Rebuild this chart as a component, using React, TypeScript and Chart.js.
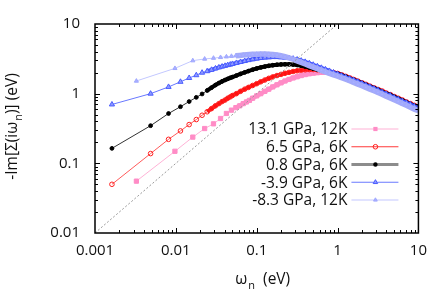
import React, { useEffect, useRef } from 'react';
import { Chart, registerables } from 'chart.js';

Chart.register(...registerables);

// ---------- data ----------
const X_TICKS = [0.001, 0.01, 0.1, 1, 10];
const X_TICK_LABELS = ['0.001', '0.01', '0.1', '1', '10'];
const Y_TICKS = [0.01, 0.1, 1, 10];
const Y_TICK_LABELS = ['0.01', '0.1', '1', '10'];

const SERIES_LABELS = ['13.1 GPa, 12K', '6.5 GPa, 6K', '0.8 GPa, 6K', '-3.9 GPa, 6K', '-8.3 GPa, 12K'];

// Matsubara frequencies (eV)
const W_6K_LOW = [0.00162, 0.00487, 0.00812, 0.0114, 0.0146, 0.0179, 0.0211, 0.0244, 0.0276, 0.0309, 0.0341, 0.0373, 0.0406, 0.0438, 0.0471, 0.05, 0.056, 0.063, 0.071, 0.079];
const W_12K_LOW = [0.00325, 0.00974, 0.0162, 0.0227, 0.0292, 0.0357, 0.0422, 0.0487, 0.0552, 0.0617, 0.0682, 0.0747, 0.0812];
const W_HIGH = [0.089, 0.1, 0.112, 0.126, 0.141, 0.158, 0.178, 0.2, 0.224, 0.251, 0.282, 0.316, 0.355, 0.398, 0.447, 0.5, 0.562, 0.631, 0.708, 0.794, 0.891, 1,
  1.12, 1.26, 1.41, 1.58, 1.78, 2, 2.24, 2.51, 2.82, 3.16, 3.55, 3.98, 4.47, 5.01, 5.62, 6.31, 7.08, 7.94, 8.91, 10];

// -Im Sigma (eV)
const P131_Y = [0.0555, 0.149, 0.238, 0.316, 0.369, 0.44, 0.52, 0.58, 0.63, 0.67, 0.72, 0.76, 0.80,
  0.86, 0.93, 1.0, 1.08, 1.16, 1.25, 1.34, 1.43, 1.52, 1.60, 1.68, 1.75, 1.82, 1.88, 1.93, 1.97, 2.0, 2.02, 2.02, 2.01, 1.98, 1.94,
  1.85, 1.76, 1.67, 1.59, 1.50, 1.42, 1.35, 1.27, 1.20, 1.14, 1.08, 1.01, 0.96, 0.90, 0.85, 0.80, 0.75, 0.71, 0.67, 0.63];
const P65_Y = [0.050, 0.138, 0.221, 0.292, 0.36, 0.425, 0.49, 0.55, 0.61, 0.67, 0.72, 0.77, 0.81, 0.86, 0.90, 0.94, 1.0, 1.08, 1.16, 1.23,
  1.31, 1.39, 1.48, 1.57, 1.66, 1.74, 1.82, 1.89, 1.96, 2.02, 2.08, 2.13, 2.17, 2.20, 2.22, 2.22, 2.20, 2.17, 2.12, 2.07, 2.01, 1.95,
  1.86, 1.77, 1.68, 1.60, 1.51, 1.43, 1.36, 1.28, 1.21, 1.15, 1.09, 1.02, 0.97, 0.91, 0.86, 0.81, 0.76, 0.72, 0.68, 0.64];
const P08_Y = [0.164, 0.347, 0.519, 0.65, 0.771, 0.885, 0.99, 1.11, 1.22, 1.33, 1.42, 1.50, 1.57, 1.63, 1.69, 1.73, 1.82, 1.92, 2.02, 2.11,
  2.21, 2.30, 2.38, 2.45, 2.51, 2.56, 2.60, 2.63, 2.64, 2.64, 2.62, 2.58, 2.52, 2.45, 2.37, 2.29, 2.21, 2.14, 2.08, 2.03, 1.98, 1.93,
  1.84, 1.75, 1.66, 1.58, 1.50, 1.42, 1.34, 1.27, 1.20, 1.14, 1.07, 1.01, 0.96, 0.90, 0.85, 0.80, 0.75, 0.71, 0.67, 0.63];
const M39_Y = [0.70, 1.0, 1.25, 1.48, 1.68, 1.84, 2.0, 2.1, 2.2, 2.3, 2.38, 2.45, 2.51, 2.57, 2.62, 2.67, 2.76, 2.85, 2.94, 3.03,
  3.11, 3.19, 3.25, 3.30, 3.33, 3.35, 3.35, 3.33, 3.30, 3.25, 3.18, 3.09, 2.98, 2.86, 2.73, 2.60, 2.47, 2.35, 2.23, 2.12, 2.01, 1.91,
  1.81, 1.72, 1.64, 1.56, 1.48, 1.40, 1.32, 1.25, 1.18, 1.12, 1.05, 0.99, 0.94, 0.88, 0.83, 0.78, 0.74, 0.70, 0.66, 0.62];
const M83_Y = [1.52, 2.31, 2.98, 3.15, 3.24, 3.32, 3.39, 3.45, 3.50, 3.54, 3.58, 3.61, 3.64,
  3.67, 3.69, 3.70, 3.70, 3.68, 3.64, 3.58, 3.50, 3.40, 3.27, 3.12, 2.96, 2.81, 2.67, 2.53, 2.40, 2.28, 2.16, 2.05, 1.95, 1.86, 1.78,
  1.69, 1.61, 1.53, 1.45, 1.37, 1.30, 1.23, 1.16, 1.10, 1.04, 0.98, 0.92, 0.87, 0.82, 0.77, 0.72, 0.68, 0.64, 0.60, 0.57];

// reference line y = 10 x
const DIAG_X = [0.001, 1];
const DIAG_Y = [0.01, 10];

// ---------- styles ----------
const FONT = "'Open Sans', 'DejaVu Sans', sans-serif";
const TEXT = '#111111';

type Sty = {
  marker: string; pointStyle: string; radius: number; fill: string; stroke: string;
  line: string; band: string; bandW: number; legLine: string; legW: number; order: number;
};
const STYLES: Sty[] = [
  { marker: 'sq', pointStyle: 'rect', radius: 3, fill: '#ff8cc6', stroke: '#ff8cc6', line: '#ffb2d6', band: '#ff94c8', bandW: 4.5, legLine: '#ffb2d6', legW: 1.2, order: 4 },
  { marker: 'oc', pointStyle: 'circle', radius: 2.3, fill: 'rgba(0,0,0,0)', stroke: '#ff2020', line: '#ff5a5a', band: '#ff1010', bandW: 4, legLine: '#ff3a3a', legW: 1.2, order: 3 },
  { marker: 'dot', pointStyle: 'circle', radius: 1.9, fill: '#000000', stroke: '#000000', line: '#333333', band: '#000000', bandW: 4, legLine: '#8c8c8c', legW: 3, order: 2 },
  { marker: 'tri', pointStyle: 'triangle', radius: 3, fill: '#8e9aff', stroke: '#4a5cff', line: '#6878ff', band: '#3c4cff', bandW: 4, legLine: '#6a7aff', legW: 1.2, order: 1 },
  { marker: 'tri2', pointStyle: 'triangle', radius: 2.4, fill: '#a9b0ff', stroke: '#a0a8ff', line: '#c3c8ff', band: '#a6acf6', bandW: 5.5, legLine: '#c3c8ff', legW: 1.2, order: 0 },
];

const DENSE_DX = 4.35;

function pts(xs: number[], ys: number[]) {
  return xs.map((x, i) => ({ x, y: ys[i] }));
}

export default function App() {
  const ref = useRef<HTMLCanvasElement>(null);

  useEffect(() => {
    const X6 = [...W_6K_LOW, ...W_HIGH];
    const X12 = [...W_12K_LOW, ...W_HIGH];
    const seriesData = [pts(X12, P131_Y), pts(X6, P65_Y), pts(X6, P08_Y), pts(X6, M39_Y), pts(X12, M83_Y)];

    const datasets: any[] = seriesData.map((data, i) => {
      const s = STYLES[i];
      return {
        label: SERIES_LABELS[i],
        data,
        order: s.order,
        pointStyle: s.pointStyle,
        pointRadius: s.radius,
        pointBackgroundColor: s.fill,
        pointBorderColor: s.stroke,
        pointBorderWidth: 1,
        borderColor: s.line,
        borderWidth: 1,
        fill: false,
        tension: 0,
        segment: {
          borderWidth: (c: any) => (c.p1.x - c.p0.x < DENSE_DX ? s.bandW : 1),
          borderColor: (c: any) => (c.p1.x - c.p0.x < DENSE_DX ? s.band : s.line),
        },
      };
    });
    datasets.push({
      label: 'diag',
      data: pts(DIAG_X, DIAG_Y),
      order: -1,
      pointRadius: 0,
      borderColor: '#9a9a9a',
      borderWidth: 1,
      borderDash: [2, 2],
      fill: false,
    });

    const frame = {
      id: 'frame',
      afterDatasetsDraw(chart: any) {
        const { ctx, chartArea: a, scales } = chart;
        const xs = scales.x, ys = scales.y;
        ctx.save();
        ctx.strokeStyle = '#000';
        ctx.lineWidth = 1;
        ctx.beginPath();
        for (let k = -3; k <= 1; k++) {
          for (let m = 1; m <= 9; m++) {
            const v = m * Math.pow(10, k);
            if (v > 10.0001) break;
            const px = Math.round(xs.getPixelForValue(v)) + 0.5;
            if (px < a.left + 1 || px > a.right - 1) continue;
            const len = m === 1 ? 5 : 3;
            ctx.moveTo(px, a.bottom); ctx.lineTo(px, a.bottom - len);
            ctx.moveTo(px, a.top); ctx.lineTo(px, a.top + len);
          }
        }
        for (let k = -2; k <= 1; k++) {
          for (let m = 1; m <= 9; m++) {
            const v = m * Math.pow(10, k);
            if (v > 10.0001) break;
            const py = Math.round(ys.getPixelForValue(v)) + 0.5;
            if (py < a.top + 1 || py > a.bottom - 1) continue;
            const len = m === 1 ? 5 : 3;
            ctx.moveTo(a.left, py); ctx.lineTo(a.left + len, py);
            ctx.moveTo(a.right, py); ctx.lineTo(a.right - len, py);
          }
        }
        ctx.stroke();
        ctx.lineWidth = 1.5;
        ctx.strokeRect(a.left, a.top, a.right - a.left, a.bottom - a.top);
        ctx.restore();
      },
      afterDraw(chart: any) {
        const { ctx, chartArea: a } = chart;
        ctx.save();
        ctx.fillStyle = TEXT;
        ctx.textBaseline = 'alphabetic';

        // x title: ω_n  (eV)
        const big = `15.5px ${FONT}`;
        const small = `11px ${FONT}`;
        ctx.font = big;
        const w1 = ctx.measureText('ω').width;
        const w3 = ctx.measureText('  (eV)').width;
        ctx.font = small;
        const w2 = ctx.measureText('n').width;
        const cx = (a.left + a.right) / 2 + 6;
        let sx = cx - (w1 + w2 + 1 + w3) / 2;
        const by = 284;
        ctx.font = big; ctx.textAlign = 'left';
        ctx.fillText('ω', sx, by);
        ctx.font = small; ctx.fillText('n', sx + w1 + 1, by + 5);
        ctx.font = big; ctx.fillText('  (eV)', sx + w1 + 1 + w2, by);

        // y title: -Im[Σ(iω_n)] (eV)
        ctx.font = big;
        const t1 = '-Im[Σ(iω', t3 = ')] (eV)';
        const v1 = ctx.measureText(t1).width;
        const v3 = ctx.measureText(t3).width;
        ctx.font = small;
        const v2 = ctx.measureText('n').width;
        const total = v1 + v2 + 1 + v3;
        ctx.translate(16.5, (a.top + a.bottom) / 2 - 2);
        ctx.rotate(-Math.PI / 2);
        let tx = -total / 2;
        ctx.font = big; ctx.fillText(t1, tx, 0);
        ctx.font = small; ctx.fillText('n', tx + v1 + 1, 5);
        ctx.font = big; ctx.fillText(t3, tx + v1 + 1 + v2, 0);
        ctx.restore();

        // legend
        ctx.save();
        const textRight = a.right - 71;
        const lx0 = a.right - 67, lx1 = a.right - 20, mx = a.right - 43;
        ctx.font = `15.5px ${FONT}`;
        ctx.textAlign = 'right';
        ctx.textBaseline = 'middle';
        SERIES_LABELS.forEach((lab, i) => {
          const s = STYLES[i];
          const y = a.top + 105 + i * 17.75;
          ctx.fillStyle = TEXT;
          ctx.fillText(lab, textRight, y + 1);
          ctx.strokeStyle = s.legLine;
          ctx.lineWidth = s.legW;
          ctx.beginPath(); ctx.moveTo(lx0, y); ctx.lineTo(lx1, y); ctx.stroke();
          ctx.lineWidth = 1;
          ctx.fillStyle = s.fill; ctx.strokeStyle = s.stroke;
          ctx.beginPath();
          if (s.marker === 'sq') {
            ctx.fillRect(mx - 2.1, y - 2.1, 4.2, 4.2);
          } else if (s.marker === 'oc') {
            ctx.arc(mx, y, 2.3, 0, Math.PI * 2); ctx.stroke();
          } else if (s.marker === 'dot') {
            ctx.arc(mx, y, 2.2, 0, Math.PI * 2); ctx.fill();
          } else {
            const r = s.marker === 'tri' ? 2.6 : 2.2;
            ctx.moveTo(mx, y - r);
            ctx.lineTo(mx + r * 0.866, y + r * 0.5);
            ctx.lineTo(mx - r * 0.866, y + r * 0.5);
            ctx.closePath(); ctx.fill(); ctx.stroke();
          }
        });
        ctx.restore();
      },
    };

    const chart = new Chart(ref.current as HTMLCanvasElement, {
      type: 'line',
      data: { datasets },
      options: {
        animation: false,
        responsive: false,
        events: [],
        layout: { padding: { left: 0, right: 12, top: 10, bottom: 0 } },
        plugins: { legend: { display: false }, tooltip: { enabled: false }, title: { display: false } },
        scales: {
          x: {
            type: 'logarithmic',
            min: 0.001,
            max: 10,
            grid: { display: false, drawTicks: false },
            border: { display: false },
            afterBuildTicks: (sc: any) => { sc.ticks = X_TICKS.map((v) => ({ value: v })); },
            afterFit: (sc: any) => { sc.height = 59; },
            ticks: {
              autoSkip: false, maxRotation: 0, padding: 9, color: TEXT,
              font: { family: FONT, size: 15 },
              callback: (v: any) => X_TICK_LABELS[X_TICKS.indexOf(Number(v))] ?? '',
            },
          },
          y: {
            type: 'logarithmic',
            min: 0.01,
            max: 10,
            grid: { display: false, drawTicks: false },
            border: { display: false },
            afterBuildTicks: (sc: any) => { sc.ticks = Y_TICKS.map((v) => ({ value: v })); },
            afterFit: (sc: any) => { sc.width = 95; },
            ticks: {
              autoSkip: false, padding: 15, color: TEXT,
              font: { family: FONT, size: 15 },
              callback: (v: any) => Y_TICK_LABELS[Y_TICKS.indexOf(Number(v))] ?? '',
            },
          },
        },
      } as any,
      plugins: [frame],
    });
    return () => chart.destroy();
  }, []);

  return (
    <div style={{ position: 'absolute', left: 0, top: 0, width: 436, height: 292, background: '#fff' }}>
      <canvas ref={ref} width={436} height={292} style={{ display: 'block', width: 436, height: 292 }} />
    </div>
  );
}
